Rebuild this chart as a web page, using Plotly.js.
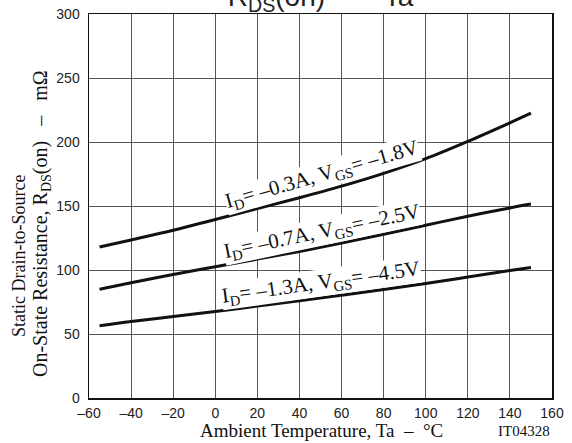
<!DOCTYPE html>
<html>
<head>
<meta charset="utf-8">
<script src="https://cdn.plot.ly/plotly-3.0.1.min.js"></script>
<style>html,body{margin:0;padding:0;background:#fff;}#chart{width:572px;height:443px;}</style>
</head>
<body>
<div id="chart"></div>
<script>
// Data
const temps = [-55, -40, -20, 0, 20, 40, 60, 80, 100, 120, 140, 150];
const rds_03A = [118, 123.5, 131, 139.5, 148, 156.5, 165.5, 175.5, 187, 200.5, 215, 222.5];
const rds_07A = [85, 90, 96.5, 102.5, 108.5, 114.5, 121, 128, 135, 142, 148.5, 151.5];
const rds_13A = [56.5, 59.8, 63.6, 67.6, 71.8, 76, 80.3, 84.8, 89.5, 94.5, 99.6, 102];
const xTicks = [-60, -40, -20, 0, 20, 40, 60, 80, 100, 120, 140, 160];
const yTicks = [0, 50, 100, 150, 200, 250, 300];
const labels = [
  "I<sub>D</sub>= \u20130.3A, V<sub>GS</sub>= \u20131.8V",
  "I<sub>D</sub>= \u20130.7A, V<sub>GS</sub>= \u20132.5V",
  "I<sub>D</sub>= \u20131.3A, V<sub>GS</sub>= \u20134.5V"
];
const labelPos = [[50.5, 174.5], [50.5, 130], [50, 90]];
const labelAngle = [-16, -11.8, -8];

const lineStyle = {color: '#111', width: 3, shape: 'spline'};
const traces = [rds_03A, rds_07A, rds_13A].map(v => ({
  x: temps, y: v, type: 'scatter', mode: 'lines', line: lineStyle, hoverinfo: 'skip', showlegend: false
}));

const serif = 'Liberation Serif, Times New Roman, serif';
const sans = 'Liberation Sans, Arial, sans-serif';

const annotations = labels.map((t, i) => ({
  x: labelPos[i][0], y: labelPos[i][1], xref: 'x', yref: 'y',
  xanchor: 'center', yanchor: 'middle',
  text: t, showarrow: false, textangle: labelAngle[i],
  font: {family: serif, size: 21, color: '#111'},
  bgcolor: '#fff', borderpad: 0
}));
const L = 89, R = 20, T = 14, B = 45, W = 572, H = 443;
function px(x, y) { return {x: (x - L) / (W - L - R), y: (H - B - y) / (H - T - B)}; }
const ext = [
  {p: [19, 256], text: 'Static Drain-to-Source', size: 18, angle: -90},
  {p: [41, 224], text: 'On-State Resistance, R<sub>DS</sub>(on)\u00A0\u00A0\u00A0\u2013\u00A0\u00A0\u00A0m\u03A9', size: 20, angle: -90},
  {p: [321, 430], text: 'Ambient Temperature, Ta\u00A0\u00A0\u2013\u00A0\u00A0\u00B0C', size: 19, angle: 0},
  {p: [524, 431], text: 'IT04328', size: 15, angle: 0}
];
ext.forEach(e => {
  const c = px(e.p[0], e.p[1]);
  annotations.push({
    x: c.x, y: c.y, xref: 'paper', yref: 'paper', xanchor: 'center', yanchor: 'middle',
    text: e.text, showarrow: false, textangle: e.angle,
    font: {family: serif, size: e.size, color: '#111'}
  });
});

const layout = {
  width: W, height: H,
  margin: {l: L, r: R, t: T, b: B, pad: 0},
  paper_bgcolor: '#fff', plot_bgcolor: '#fff',
  title: {
    text: 'R<sub>DS</sub>(on)  \u2014  Ta',
    font: {family: sans, size: 28, color: '#222'},
    x: 0.5, xref: 'paper', y: 1 - 6 / H, yref: 'container', yanchor: 'bottom'
  },
  xaxis: {
    range: [-60, 160], tickvals: xTicks, ticktext: xTicks.map(v => v < 0 ? '\u2013' + Math.abs(v) : String(v)),
    showgrid: true, gridcolor: '#555', gridwidth: 1,
    showline: true, linecolor: '#111', linewidth: 1.5, mirror: true,
    ticks: '', zeroline: false, ticklabelstandoff: 2,
    tickfont: {family: sans, size: 14, color: '#222'}
  },
  yaxis: {
    range: [0, 300], tickvals: yTicks,
    showgrid: true, gridcolor: '#555', gridwidth: 1,
    showline: true, linecolor: '#111', linewidth: 1.5, mirror: true,
    ticks: '', zeroline: false, ticklabelstandoff: 5,
    tickfont: {family: sans, size: 14, color: '#222'}
  },
  annotations: annotations
};
Plotly.newPlot('chart', traces, layout, {displayModeBar: false, staticPlot: true});
</script>
</body>
</html>
